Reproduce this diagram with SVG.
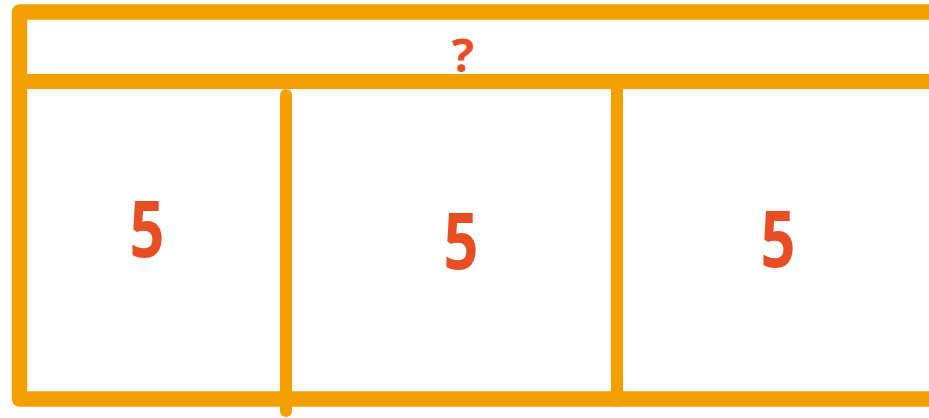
<svg xmlns="http://www.w3.org/2000/svg" width="929" height="418" viewBox="0 0 929 418">
<style>
.ln{stroke:#F39F00;fill:none;stroke-linecap:round;stroke-linejoin:round}
.t{font-family:"Open Sans","Noto Sans",sans-serif;fill:#E84E24;text-anchor:middle;font-weight:700}
</style>
<rect width="929" height="418" fill="#fff"/>
<g id="connectors">
<path class="ln" d="M940 12 H19.5 V399 H940" stroke-width="15.5"/>
<path class="ln" d="M19.5 81.5 H940" stroke-width="15"/>
<path class="ln" d="M286 95 V411" stroke-width="12"/>
<path class="ln" d="M617 88 V401" stroke-width="12"/>
</g>
<g id="top"><text class="t" x="463" y="72" font-size="47">?</text></g>
<g id="c1"><text class="t" x="147" y="257" font-size="79" textLength="35" lengthAdjust="spacingAndGlyphs">5</text></g>
<g id="c2"><text class="t" x="461" y="269" font-size="79" textLength="35" lengthAdjust="spacingAndGlyphs">5</text></g>
<g id="c3"><text class="t" x="778" y="267" font-size="79" textLength="35" lengthAdjust="spacingAndGlyphs">5</text></g>
</svg>
